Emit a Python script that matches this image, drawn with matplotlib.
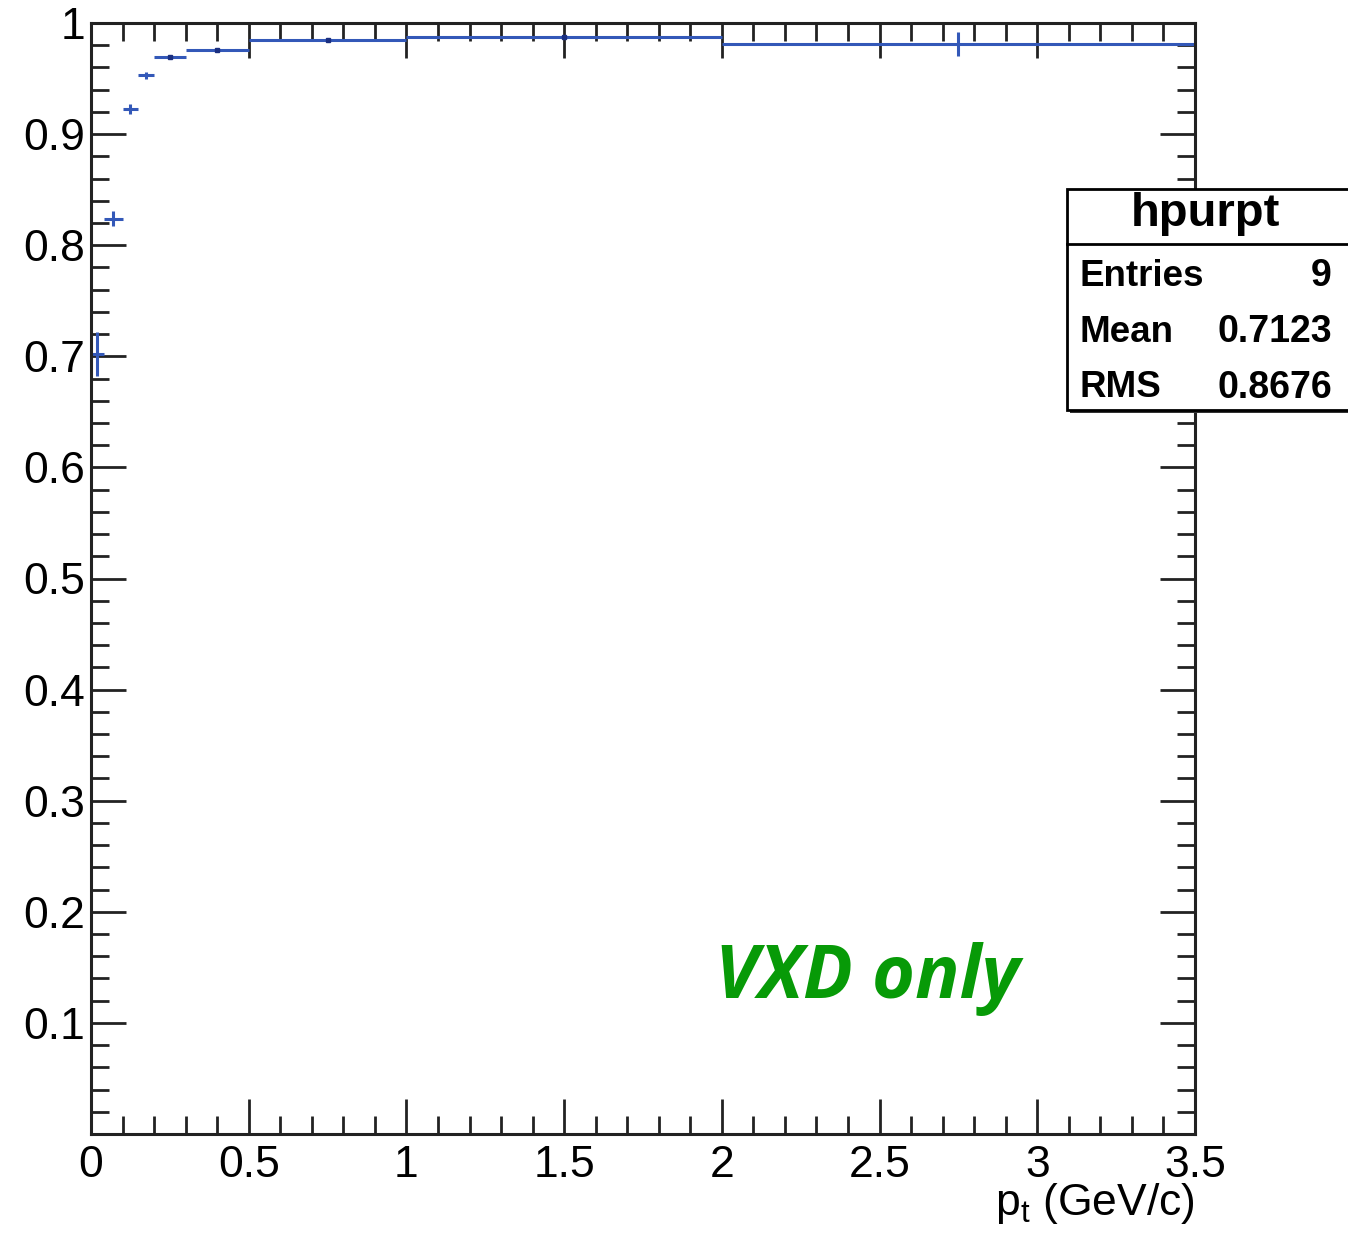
import numpy as np
import matplotlib.pyplot as plt
from matplotlib.patches import Rectangle
from matplotlib.ticker import MultipleLocator

# variable-width pt bins (GeV/c) and purity per bin
bin_edges = [0.0, 0.04, 0.1, 0.15, 0.2, 0.3, 0.5, 1.0, 2.0, 3.5]
purity = [0.702, 0.824, 0.9226, 0.953, 0.969, 0.976, 0.985, 0.987, 0.981]
purity_err = [0.020, 0.007, 0.0045, 0.003, 0.0015, 0.001, 0.0015, 0.001, 0.011]

x_ticks = [0, 0.5, 1, 1.5, 2, 2.5, 3, 3.5]
x_labels = ['0', '0.5', '1', '1.5', '2', '2.5', '3', '3.5']
y_ticks = [0.1, 0.2, 0.3, 0.4, 0.5, 0.6, 0.7, 0.8, 0.9, 1.0]
y_labels = ['0.1', '0.2', '0.3', '0.4', '0.5', '0.6', '0.7', '0.8', '0.9', '1']

stat_names = ['Entries', 'Mean', 'RMS']
stat_values = ['9', '0.7123', '0.8676']

W, H = 1348, 1239
plt.rcParams['font.family'] = ['Liberation Sans', 'DejaVu Sans']

def fx(px):
    return px / W

def fy(py):
    return 1 - py / H

fig = plt.figure(figsize=(W / 100, H / 100), dpi=100)
ax = fig.add_axes([fx(91), fy(1134), fx(1195) - fx(91), fy(23) - fy(1134)])

edges = np.array(bin_edges)
centers = (edges[:-1] + edges[1:]) / 2
halfw = (edges[1:] - edges[:-1]) / 2
ax.errorbar(centers, purity, xerr=halfw, yerr=purity_err, fmt='none',
            ecolor='#3358b8', elinewidth=2.2, capsize=0)
ax.plot(centers[4:8], purity[4:8], ls='none', marker='s', ms=2.5, color='#1a2f80')

ax.set_xlim(0, 3.5)
ax.set_ylim(0, 1)
ax.set_xticks(x_ticks)
ax.set_xticklabels(x_labels)
ax.set_yticks(y_ticks)
ax.set_yticklabels(y_labels)
ax.xaxis.set_minor_locator(MultipleLocator(0.1))
ax.yaxis.set_minor_locator(MultipleLocator(0.02))
ax.tick_params(which='both', direction='in', top=True, right=True, width=2, color='#222222')
ax.tick_params(which='major', length=25, labelsize=32)
ax.tick_params(which='minor', length=13)
ax.tick_params(axis='y', which='major', pad=4)
ax.tick_params(axis='x', which='major', pad=8)
for s in ax.spines.values():
    s.set_linewidth(2.2)
    s.set_color('#222222')

fig.text(fx(1195), fy(1215), r'p$_{\mathregular{t}}$ (GeV/c)', ha='right', va='baseline', fontsize=32)

ax.text(fx(715), fy(998), 'VXD only', transform=fig.transFigure, color='#079a07',
        fontsize=53, fontweight='bold', fontstyle='italic', family='Open Sans',
        ha='left', va='baseline')

# stats box
fig.patches.append(Rectangle((fx(1070), fy(413)), fx(300), fy(189) - fy(413),
                             transform=fig.transFigure, facecolor='#333333', edgecolor='none'))
fig.patches.append(Rectangle((fx(1067), fy(410)), fx(300), fy(189) - fy(410),
                             transform=fig.transFigure, facecolor='white', edgecolor='black', lw=2))
fig.add_artist(plt.Line2D([fx(1067), fx(1348)], [fy(244), fy(244)], transform=fig.transFigure,
                          color='black', lw=2))
fig.text(fx(1205), fy(214), 'hpurpt', ha='center', va='center', fontsize=34, fontweight='bold')
for i, (n, v) in enumerate(zip(stat_names, stat_values)):
    yy = fy(276 + 56 * i)
    fig.text(fx(1080), yy, n, ha='left', va='center', fontsize=26.5, fontweight='bold')
    fig.text(fx(1332), yy, v, ha='right', va='center', fontsize=27, fontweight='bold')

fig.savefig('out.png', dpi=100)
